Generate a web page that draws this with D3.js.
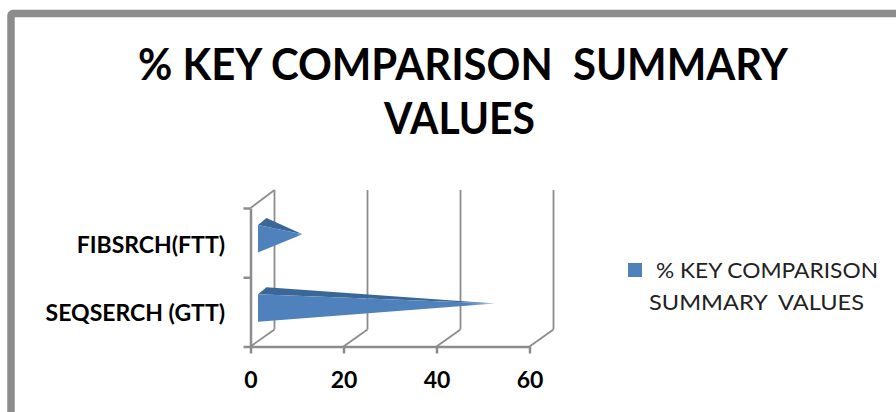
<!DOCTYPE html>
<html>
<head>
<meta charset="utf-8">
<script src="https://d3js.org/d3.v7.min.js"></script>
<style>
  html, body { margin: 0; padding: 0; background: #fff; overflow: hidden; }
  text { font-family: Lato, "Open Sans", sans-serif; fill: #000; white-space: pre; }
  .axis path, .axis line { stroke: #8c8c8c; stroke-width: 2.5; }
  .wall { stroke: #8c8c8c; stroke-width: 1.8; fill: none; }
</style>
</head>
<body>
<svg id="chart" width="896" height="412"></svg>
<script>
var categories = ["FIBSRCH(FTT)", "SEQSERCH (GTT)"];
var seriesValues = [8.6, 50];
var xTicks = [0, 20, 40, 60];
var titleLines = ["% KEY COMPARISON  SUMMARY", "VALUES"];
var legendLines = ["% KEY COMPARISON", "SUMMARY  VALUES"];

var svg = d3.select("#chart");

var x = d3.scaleLinear().domain([0, 60]).range([250.5, 529.5]);
var y = d3.scaleBand().domain(categories).range([208, 346.5]);
var yEdges = d3.scaleLinear().domain([0, 2]).range([346.5, 208]);

// 3d depth of the box
var depthX = 24, depthY = -17;

var defs = svg.append("defs");
var fade = defs.append("linearGradient").attr("id", "frontFade");
fade.append("stop").attr("offset", "0.88").attr("stop-color", "#4f81bd");
fade.append("stop").attr("offset", "1").attr("stop-color", "#a9c3e2");

// chart frame, runs off the right and bottom of the picture
svg.append("rect")
  .attr("x", 11).attr("y", 13.5)
  .attr("width", 920).attr("height", 440)
  .attr("rx", 2)
  .attr("fill", "#fff")
  .attr("stroke", "#8c8c8c")
  .attr("stroke-width", 7.5);

// title, squeezed to the narrower face of the original
svg.append("g").selectAll("text")
  .data(titleLines)
  .join("text")
  .attr("x", function (d, i) { return i === 0 ? 463 : 459.5; })
  .attr("y", function (d, i) { return 80 + i * 54; })
  .attr("text-anchor", "middle")
  .attr("font-size", 44)
  .attr("font-weight", 700)
  .attr("textLength", function (d, i) { return i === 0 ? 650 : 151; })
  .attr("lengthAdjust", "spacingAndGlyphs")
  .text(function (d) { return d; });

// back wall, floor and side wall lines
var walls = svg.append("g");
walls.selectAll("line.back")
  .data(xTicks)
  .join("line")
  .attr("class", "back wall")
  .attr("x1", function (d) { return x(d) + depthX; })
  .attr("x2", function (d) { return x(d) + depthX; })
  .attr("y1", y.range()[1] + depthY)
  .attr("y2", 190);
walls.selectAll("line.floor")
  .data(xTicks)
  .join("line")
  .attr("class", "floor wall")
  .attr("x1", function (d) { return x(d); })
  .attr("x2", function (d) { return x(d) + depthX; })
  .attr("y1", y.range()[1])
  .attr("y2", y.range()[1] + depthY);
walls.append("line")
  .attr("class", "wall")
  .attr("x1", x(0)).attr("x2", x(0) + depthX)
  .attr("y1", y.range()[0]).attr("y2", y.range()[0] + depthY - 1);

// axes
svg.append("g")
  .attr("class", "axis")
  .attr("transform", "translate(0," + y.range()[1] + ")")
  .call(d3.axisBottom(x).tickValues(xTicks).tickSize(7).tickSizeOuter(0).tickPadding(0))
  .call(function (g) {
    g.selectAll("text")
      .attr("y", 41.5).attr("dy", 0)
      .attr("font-size", 23)
      .attr("font-weight", 700)
      .style("font-family", "Lato");
  });

svg.append("g")
  .attr("class", "axis")
  .attr("transform", "translate(" + x(0) + ",0)")
  .call(d3.axisLeft(yEdges).ticks(2).tickSize(7).tickSizeOuter(0).tickFormat(""));

svg.append("g")
  .attr("transform", "translate(225,0)")
  .call(d3.axisLeft(y).tickSize(0).tickPadding(0))
  .call(function (g) {
    g.select(".domain").remove();
    g.selectAll("text")
      .attr("x", 0)
      .attr("dy", function (d, i) { return i === 0 ? 10.5 : 9.5; })
      .attr("font-size", 23)
      .attr("font-weight", 700)
      .style("font-family", "Lato");
  });

// cones seen from the side: the top face behind, the front face over it
var barHalf = 13.75;
function middle(d) { return y(d) + y.bandwidth() / 2 - 4; }
function tipX(i) { return x(seriesValues[i]) + 12; }
var line = d3.line();

var bars = svg.append("g").selectAll("g")
  .data(categories)
  .join("g");

bars.append("path")
  .attr("fill", "#3b6796")
  .attr("d", function (d, i) {
    var top = middle(d) - barHalf;
    return line([
      [x(0) + 7.5, top],
      [x(0) + 16, top - 7],
      [tipX(i), middle(d) - 4.5]
    ]) + "Z";
  });

bars.append("path")
  .attr("fill", "url(#frontFade)")
  .attr("d", function (d, i) {
    return line([
      [x(0) + 7.5, middle(d) - barHalf],
      [tipX(i), middle(d) - 4.5],
      [x(0) + 7.5, middle(d) + barHalf]
    ]) + "Z";
  });

// legend
svg.append("rect")
  .attr("x", 628).attr("y", 263)
  .attr("width", 14).attr("height", 14)
  .attr("fill", "#4f81bd");

svg.append("g").selectAll("text")
  .data(legendLines)
  .join("text")
  .attr("x", function (d, i) { return i === 0 ? 656 : 649; })
  .attr("y", function (d, i) { return 278 + i * 32; })
  .attr("font-size", 21.5)
  .attr("textLength", function (d, i) { return i === 0 ? 222 : 215; })
  .attr("lengthAdjust", "spacingAndGlyphs")
  .style("fill", "#222")
  .text(function (d) { return d; });
</script>
</body>
</html>
